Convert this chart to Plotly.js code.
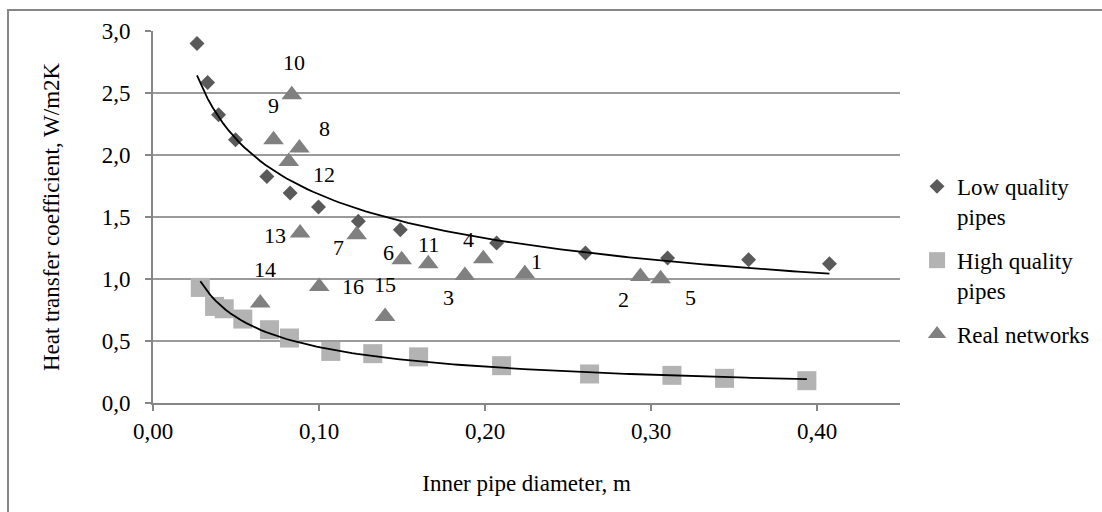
<!DOCTYPE html>
<html>
<head>
<meta charset="utf-8">
<script src="https://cdn.plot.ly/plotly-3.0.1.min.js"></script>
<style>
html,body{margin:0;padding:0;background:#fff;}
#chart{width:1102px;height:512px;}
</style>
</head>
<body>
<div id="chart"></div>
<script>
// ---- data ----
const seriesNames = ["Low quality<br>pipes", "High quality<br>pipes", "Real networks"];

const lowX = [0.0265, 0.0329, 0.0395, 0.0497, 0.0686, 0.0826, 0.0997, 0.1237, 0.149, 0.207, 0.2605, 0.310, 0.3588, 0.4075];
const lowY = [2.90, 2.585, 2.325, 2.123, 1.827, 1.694, 1.58, 1.465, 1.398, 1.29, 1.21, 1.169, 1.156, 1.123];

const highX = [0.0285, 0.0371, 0.0429, 0.0541, 0.0702, 0.0822, 0.1071, 0.1324, 0.160, 0.210, 0.263, 0.3126, 0.3443, 0.3939];
const highY = [0.932, 0.779, 0.760, 0.677, 0.591, 0.524, 0.416, 0.398, 0.372, 0.301, 0.234, 0.223, 0.199, 0.180];

const realLabels = ["1","2","3","4","5","6","7","8","9","10","11","12","13","14","15","16"];
const realX = [0.224, 0.2936, 0.1879, 0.199, 0.3058, 0.1498, 0.1227, 0.0882, 0.0726, 0.0836, 0.1658, 0.0818, 0.0886, 0.0646, 0.1398, 0.1001];
const realY = [1.043, 1.021, 1.029, 1.164, 1.002, 1.156, 1.357, 2.056, 2.123, 2.486, 1.123, 1.948, 1.371, 0.806, 0.698, 0.940];

const xTickVals = [0, 0.1, 0.2, 0.3, 0.4];
const xTickText = ["0,00", "0,10", "0,20", "0,30", "0,40"];
const yTickVals = [0, 0.5, 1.0, 1.5, 2.0, 2.5, 3.0];
const yTickText = ["0,0", "0,5", "1,0", "1,5", "2,0", "2,5", "3,0"];

const xTitle = "Inner pipe diameter, m";
const yTitle = "Heat transfer coefficient, W/m2K";

// ---- label placement (screen pixel offsets of the point numbers) ----
const labelOffsets = [[12,-12],[-17,23],[-16,22],[-15,-19],[30,19],[-13,-7],[-18,13],[25,-20],
                      [0,-34],[2,-32],[0,-19],[35,13],[-25,2],[5,-34],[0,-32],[34,0]];

// ---- power trendline (least squares in log-log space, like a spreadsheet power fit) ----
function powerTrend(xs, ys, n) {
  let sx=0, sy=0, sxy=0, sxx=0;
  const m = xs.length;
  for (let i=0;i<m;i++){ const lx=Math.log(xs[i]), ly=Math.log(ys[i]); sx+=lx; sy+=ly; sxy+=lx*ly; sxx+=lx*lx; }
  const b = (m*sxy - sx*sy)/(m*sxx - sx*sx);
  const a = Math.exp((sy - b*sx)/m);
  const x0 = Math.min(...xs), x1 = Math.max(...xs);
  const tx=[], ty=[];
  for (let k=0;k<=n;k++){ const x = x0 + (x1-x0)*k/n; tx.push(x); ty.push(a*Math.pow(x,b)); }
  return {x:tx, y:ty};
}
const lowTrend = powerTrend(lowX, lowY, 120);
const highTrend = powerTrend(highX, highY, 120);

const FONT = '"Liberation Serif", "Times New Roman", serif';
const FS = 23;
const FS_LABEL = 22;

const traces = [
  {x: lowX, y: lowY, type:'scatter', mode:'markers', name: seriesNames[0], legendgroup:'a',
   marker:{symbol:'diamond', size:11.5, color:'#5a5a5a'}},
  {x: highX, y: highY, type:'scatter', mode:'markers', name: seriesNames[1], legendgroup:'b',
   marker:{symbol:'square', size:19, color:'#b3b3b3'}},
  {x: realX, y: realY, type:'scatter', mode:'markers', name: seriesNames[2], legendgroup:'c',
   marker:{symbol:'triangle-up', size:18, color:'#808080'}},
  {x: lowTrend.x, y: lowTrend.y, type:'scatter', mode:'lines', showlegend:false, hoverinfo:'skip',
   line:{color:'#000', width:1.8}},
  {x: highTrend.x, y: highTrend.y, type:'scatter', mode:'lines', showlegend:false, hoverinfo:'skip',
   line:{color:'#000', width:1.8}}
];

const annotations = realLabels.map((t,i)=>({
  x: realX[i], y: realY[i], xref:'x', yref:'y', text:t, showarrow:false,
  xanchor:'center', yanchor:'middle',
  xshift: labelOffsets[i][0], yshift: -labelOffsets[i][1],
  font:{family:FONT, size:FS_LABEL, color:'#000'}
}));

const layout = {
  width:1102, height:512,
  margin:{l:153, r:202, t:31, b:109, autoexpand:false},
  paper_bgcolor:'#fff', plot_bgcolor:'#fff',
  font:{family:FONT, size:FS, color:'#000'},
  showlegend:true,
  legend:{x:1.0228, y:0.64, xanchor:'left', yanchor:'top', valign:'top',
          font:{family:FONT, size:FS, color:'#000'}, tracegroupgap:11, itemwidth:30,
          bgcolor:'rgba(0,0,0,0)'},
  xaxis:{range:[0,0.45], tickmode:'array', tickvals:xTickVals, ticktext:xTickText,
         showgrid:false, zeroline:false, showline:true, linecolor:'#868686', linewidth:2,
         ticks:'outside', ticklen:6, tickcolor:'#868686', tickwidth:2,
         tickfont:{family:FONT, size:FS, color:'#000'}, ticklabelstandoff:0,
         title:{text:xTitle, font:{family:FONT, size:FS, color:'#000'}, standoff:32}},
  yaxis:{range:[0,3], tickmode:'array', tickvals:yTickVals, ticktext:yTickText,
         showgrid:true, gridcolor:'#9a9a9a', gridwidth:1.5, zeroline:false,
         showline:true, linecolor:'#868686', linewidth:2,
         ticks:'outside', ticklen:6, tickcolor:'#868686', tickwidth:2,
         tickfont:{family:FONT, size:FS, color:'#000'}, ticklabelstandoff:10,
         title:{text:yTitle, font:{family:FONT, size:FS, color:'#000'}, standoff:36}},
  annotations: annotations,
  shapes:[{type:'rect', xref:'paper', yref:'paper', x0:-0.1941, x1:2, y0:-1, y1:1.0565,
           line:{color:'#868686', width:2}, fillcolor:'rgba(0,0,0,0)', layer:'below'}]
};

Plotly.newPlot('chart', traces, layout, {staticPlot:true, displayModeBar:false});
</script>
</body>
</html>
